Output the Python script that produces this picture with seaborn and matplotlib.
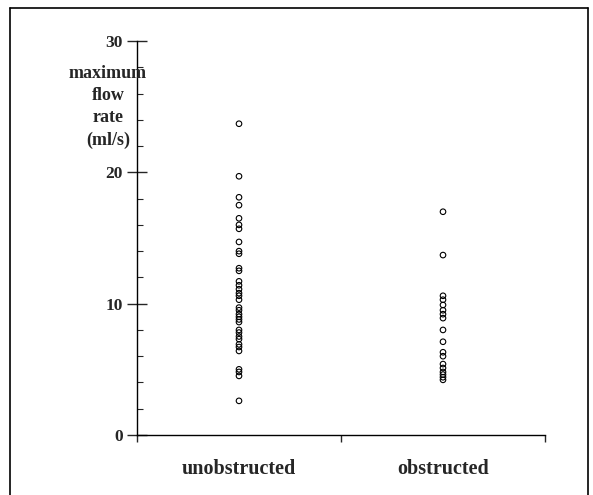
import matplotlib
matplotlib.use("Agg")
import matplotlib.pyplot as plt
from matplotlib.lines import Line2D
import pandas as pd
import seaborn as sns

# maximum flow rate readings (ml/s)
unobstructed = [23.7, 19.7, 18.1, 17.5, 16.5, 16.0, 15.7, 14.7, 14.0, 13.8,
                12.7, 12.5, 11.7, 11.4, 11.1, 10.8, 10.6, 10.3, 9.7, 9.5,
                9.2, 9.0, 8.8, 8.6, 8.0, 7.8, 7.5, 7.3, 6.9, 6.7, 6.4,
                5.0, 4.8, 4.5, 2.6]
obstructed = [17.0, 13.7, 10.6, 10.3, 9.9, 9.5, 9.2, 8.9, 8.0, 7.1,
              6.3, 6.0, 5.4, 5.1, 4.8, 4.6, 4.4, 4.2]
groups = ["unobstructed", "obstructed"]
yticks = [0, 10, 20, 30]

df = pd.DataFrame({
    "group": ["unobstructed"] * len(unobstructed) + ["obstructed"] * len(obstructed),
    "flow": unobstructed + obstructed,
})

sns.set_style("white")
plt.rcParams["font.family"] = ["Liberation Serif", "DejaVu Serif"]
plt.rcParams["font.weight"] = "bold"

fig = plt.figure(figsize=(5.93, 4.95), dpi=100)
ax = fig.add_axes([137 / 593, 60 / 495, 408 / 593, 394 / 495])

sns.stripplot(data=df, x="group", y="flow", order=groups, jitter=False,
              color="black", size=4.0, linewidth=0.8, edgecolor="black", ax=ax)
for coll in ax.collections:
    coll.set_facecolor("none")
    coll.set_edgecolor("black")

ax.set_xlim(-0.5, 1.5)
ax.set_ylim(0, 30)
ax.set_xlabel("")
ax.set_ylabel("")

for side in ["top", "right"]:
    ax.spines[side].set_visible(False)
for side in ["left", "bottom"]:
    ax.spines[side].set_color("black")
    ax.spines[side].set_linewidth(1.0)

# y axis: majors every 10 crossing the axis, minors every 2 inside
ax.set_yticks(yticks)
ax.set_yticklabels([str(t) for t in yticks], fontsize=12.5, fontweight="bold")
ax.set_yticks([t for t in range(0, 31, 2) if t % 10], minor=True)
ax.tick_params(axis="y", which="major", direction="inout", length=14, width=1.0,
               left=True, pad=3)
ax.tick_params(axis="y", which="minor", direction="in", length=4, width=0.8,
               left=True)

# x axis: ticks at category boundaries, labels at category centres
ax.set_xticks([-0.5, 0.5, 1.5])
ax.set_xticklabels(["", "", ""])
ax.tick_params(axis="x", which="major", direction="out", length=5, width=1.0,
               bottom=True)
ax.set_xticks([0, 1], minor=True)
ax.set_xticklabels(groups, minor=True, fontsize=14.5, fontweight="bold")
ax.tick_params(axis="x", which="minor", length=0, pad=17)

fig.text(108 / 593, 1 - 107 / 495, "maximum\nflow\nrate\n(ml/s)",
         ha="center", va="center", fontsize=13, fontweight="bold",
         linespacing=1.4)

# frame around the figure (left, top, right)
fx0, fx1, fy1 = 10 / 593, 588 / 593, 1 - 8 / 495
for xs, ys in [([fx0, fx0], [0, fy1]), ([fx0, fx1], [fy1, fy1]),
               ([fx1, fx1], [fy1, 0])]:
    fig.add_artist(Line2D(xs, ys, transform=fig.transFigure,
                          color="black", linewidth=1.2))

fig.savefig("out.png", dpi=100)
